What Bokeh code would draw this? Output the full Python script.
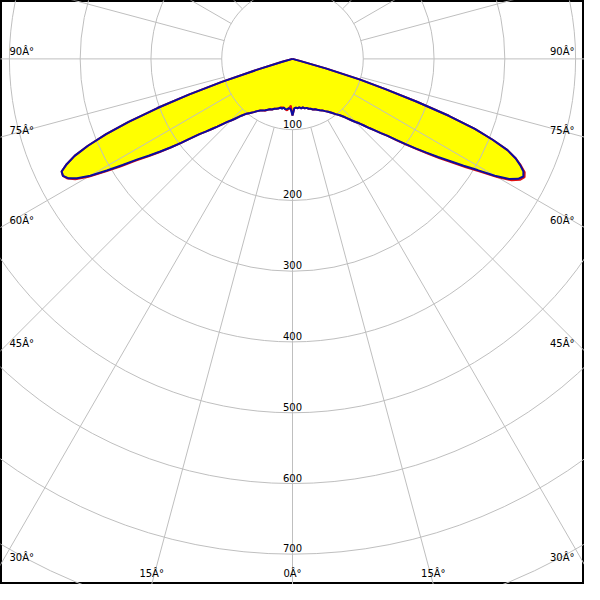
import math
from bokeh.plotting import figure
from bokeh.models import Range1d
from bokeh.core.properties import value
from bokeh.embed import file_html
from bokeh.resources import INLINE

# ---- data (candela values) ----
GAMMA = [0, 2, 4, 6, 8, 10, 12, 14, 16, 18, 20, 22, 24, 26, 28, 30, 32, 34, 36, 38, 40, 42, 44,
         45, 46, 47, 48, 49, 50, 51, 52, 53, 54, 55, 56, 57, 58, 59, 60, 61, 62, 63, 64, 65,
         66, 67, 68, 69, 70, 71, 72, 73, 74, 75, 76, 80, 90, 180]

# blue curve, right half (C90) and left half (C270)
C90 = [80, 70, 69, 70, 69, 71, 70, 72, 72, 74, 75, 77, 78, 80, 82, 84, 87, 90, 94, 99, 104, 111, 121,
       126, 131, 138, 146, 154, 163, 173, 186, 200, 215, 231, 248, 265, 285, 305, 330, 350, 361, 366,
       363, 355, 345, 330, 305, 276, 235, 185, 138, 100, 50, 12, 0, 0, 0, 0]
C270 = [80, 71, 70, 71, 72, 70, 72, 71, 73, 74, 75, 77, 78, 80, 82, 84, 86, 89, 93, 97, 101, 108, 118,
        123, 128, 135, 143, 151, 160, 169, 182, 197, 213, 228, 244, 260, 283, 306, 330, 348, 359, 364,
        363, 352, 337, 314, 284, 248, 203, 155, 105, 52, 15, 0, 0, 0, 0, 0]

# red curve, right half (C0) and left half (C180)
C0 = [80, 70, 69, 70, 69, 71, 70, 72, 72, 74, 75, 77, 78, 80, 82, 84, 87, 90, 94, 99, 104, 111, 121,
      126, 131, 138, 146, 154, 163, 173, 187, 201, 217, 233, 251, 268, 289, 309, 334, 354, 364, 368,
      365, 356, 345, 330, 305, 276, 235, 185, 138, 100, 50, 12, 0, 0, 0, 0]
C180 = [80, 66, 70, 73, 72, 70, 70, 71, 73, 74, 75, 77, 78, 80, 83, 84, 86, 89, 93, 97, 101, 108, 118,
        123, 128, 135, 143, 151, 160, 169, 182, 197, 213, 230, 247, 264, 287, 310, 333, 351, 360, 364,
        363, 352, 337, 314, 284, 248, 203, 155, 105, 52, 15, 0, 0, 0, 0, 0]

RADII = [100, 200, 300, 400, 500, 600, 700, 800, 900]
RADIAL_LABELS = [100, 200, 300, 400, 500, 600, 700]
SPOKE_ANGLES = list(range(0, 360, 15))
SIDE_LABEL_ANGLES = [90, 75, 60, 45, 30]
BOTTOM_LABEL_ANGLES = [15, 0]

# ---- view geometry (reference: 600 px canvas, centre at 300/60 px, 700 cd = 509 px) ----
S = 509.0 / 700.0
XMAX = 300.0 / S
YTOP = 60.0 / S
YBOT = -540.0 / S

GRID = "#bfbfbf"
FONT = value("DejaVu Sans")

p = figure(width=584, height=584, output_backend="svg", toolbar_location=None,
           x_range=Range1d(-XMAX, XMAX), y_range=Range1d(YBOT, YTOP),
           min_border=0, background_fill_color="white", border_fill_color="white")
p.axis.visible = False
p.grid.visible = False
p.outline_line_color = "black"
p.outline_line_width = 3


def curve(left, right):
    xs, ys = [], []
    for g, r in zip(reversed(GAMMA), reversed(left)):
        a = math.radians(g)
        xs.append(-r * math.sin(a))
        ys.append(-r * math.cos(a))
    for g, r in zip(GAMMA, right):
        a = math.radians(g)
        xs.append(r * math.sin(a))
        ys.append(-r * math.cos(a))
    xs.append(xs[0])
    ys.append(ys[0])
    return xs, ys


rx, ry = curve(C180, C0)
bx, by = curve(C270, C90)

# yellow fill
p.patch(rx, ry, fill_color="#ffff00", line_color=None)
p.patch(bx, by, fill_color="#ffff00", line_color=None)

# grid: circles and spokes
p.circle(x=[0] * len(RADII), y=[0] * len(RADII), radius=RADII, fill_color=None,
         line_color=GRID, line_width=1)
x0, y0, x1, y1 = [], [], [], []
for a in SPOKE_ANGLES:
    t = math.radians(a)
    x0.append(RADII[0] * math.sin(t)); y0.append(-RADII[0] * math.cos(t))
    x1.append(1200 * math.sin(t)); y1.append(-1200 * math.cos(t))
p.segment(x0, y0, x1, y1, line_color=GRID, line_width=1)

# curves
p.line(rx, ry, line_color="#e01010", line_width=2)
p.line(bx, by, line_color="#0c0ca0", line_width=2)

# radial value labels
p.text(x=[0] * len(RADIAL_LABELS), y=[-r for r in RADIAL_LABELS],
       text=[str(r) for r in RADIAL_LABELS], text_font=FONT, text_font_size="10px",
       text_align="center", text_baseline="middle", y_offset=-6, text_color="black")

# angle labels on the sides
ly = [-XMAX / math.tan(math.radians(a)) if a != 90 else 0.0 for a in SIDE_LABEL_ANGLES]
txt = [f"{a}Â°" for a in SIDE_LABEL_ANGLES]
p.text(x=[-XMAX] * len(ly), y=ly, text=txt, text_font=FONT, text_font_size="10px",
       text_align="left", text_baseline="middle", x_offset=9, y_offset=-7, text_color="black")
p.text(x=[XMAX] * len(ly), y=ly, text=txt, text_font=FONT, text_font_size="10px",
       text_align="right", text_baseline="middle", x_offset=-10, y_offset=-7, text_color="black")

# angle labels at the bottom
bxs, bys, btx = [], [], []
for a in BOTTOM_LABEL_ANGLES:
    dx = -YBOT * math.tan(math.radians(a))
    for sgn in ([-1, 1] if a != 0 else [1]):
        bxs.append(sgn * dx); bys.append(YBOT); btx.append(f"{a}Â°")
p.text(x=bxs, y=bys, text=btx, text_font=FONT, text_font_size="10px",
       text_align="center", text_baseline="middle", y_offset=-11, text_color="black")

open("out.html", "w").write(file_html(p, INLINE))
